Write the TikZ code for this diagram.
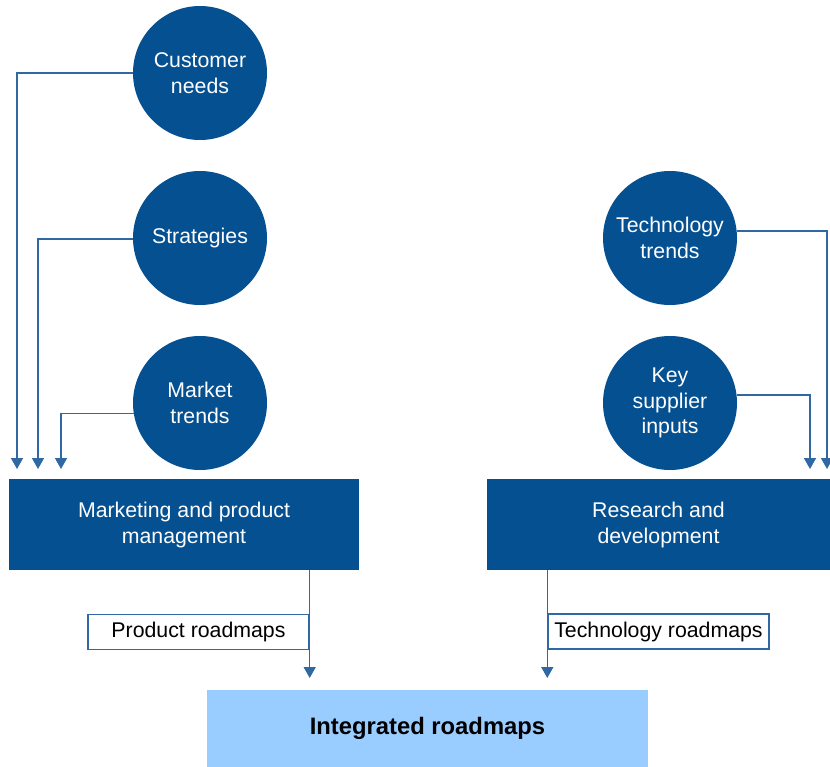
\documentclass[tikz,border=0pt]{standalone}
\usepackage{fontspec}
\setmainfont{Liberation Sans}
\usetikzlibrary{arrows.meta}

\definecolor{darkblue}{RGB}{5,80,145}
\definecolor{lineblue}{RGB}{48,104,164}
\definecolor{lightblue}{RGB}{153,204,255}

\begin{document}
\begin{tikzpicture}[x=1pt, y=-1pt,
  topic/.style={circle, fill=darkblue, text=white, minimum size=134pt,
    inner sep=0pt, align=center, font=\fontsize{21.3}{25.5}\selectfont},
  dept/.style={rectangle, fill=darkblue, text=white, minimum height=91pt,
    inner sep=0pt, align=center, font=\fontsize{21.3}{26}\selectfont},
  maplabel/.style={rectangle, draw=lineblue, line width=1.4pt, fill=white,
    minimum width=221pt, minimum height=35pt, inner sep=0pt,
    font=\fontsize{21.3}{24}\selectfont},
  flow/.style={draw=lineblue, line width=1.5pt,
    -{Triangle[width=12pt,length=11pt]}}]

  %% Roadmap integration

  % Frame
  \useasboundingbox (0,0) rectangle (830,767);

  % Product side inputs
  \node[topic] (cneeds) at (200,73) {Customer\\needs};
  \node[topic] (strat) at (200,238) {Strategies};
  \node[topic] (mtrends) at (200,403) {Market\\trends};

  % Technology side inputs
  \node[topic] (ttrends) at (670,238) {Technology\\trends};
  \node[topic] (supply) at (670,403) {Key\\supplier\\inputs};

  % Departments
  \node[dept, minimum width=350pt] (mpm) at (184,524.5)
    {Marketing and product\\management};
  \node[dept, minimum width=343pt] (rnd) at (658.5,524.5)
    {Research and\\development};

  % Integrated roadmaps
  \node[rectangle, fill=lightblue, minimum width=441pt, minimum height=77pt,
    inner sep=0pt, font=\fontsize{23.8}{28}\selectfont\bfseries]
    (irm) at (427.5,728.5) {Integrated roadmaps};

  % Roadmap labels
  \node[maplabel] (prm) at (198.5,632) {Product roadmaps};
  \node[maplabel] (trm) at (658.5,631.5) {Technology roadmaps};

  % Arrow ends
  \coordinate (a1) at (17,469);
  \coordinate (a2) at (38,469);
  \coordinate (a3) at (61,469);
  \coordinate (b1) at (810,469);
  \coordinate (b2) at (827,469);
  \coordinate (p1) at (prm.east |- 0,678);
  \coordinate (p2) at (trm.west |- 0,678);

  % Inputs into the departments
  \draw[flow] (cneeds.west) -| (a1);
  \draw[flow] (strat.181) -| (a2);
  \draw[flow] (mtrends.189) -| (a3);
  \draw[flow] (ttrends.6) -| (b2);
  \draw[flow] (supply.7) -| (b1);

  % Departments into integrated roadmaps
  \draw[flow] (mpm.south -| p1) -- (p1);
  \draw[flow] (rnd.south -| p2) -- (p2);

\end{tikzpicture}
\end{document}
